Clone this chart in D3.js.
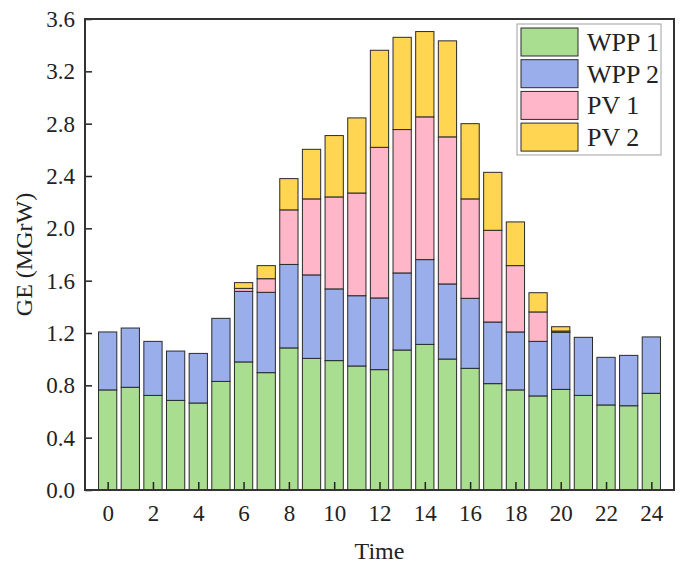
<!DOCTYPE html>
<html lang="en">
<head>
    <meta charset="UTF-8">
    <title>GE stacked bars</title>
    <script src="https://d3js.org/d3.v7.min.js"></script>
    <style>
        body { margin: 0; background: #fff; }
        text { font-family: "Liberation Serif", "Times New Roman", serif; fill: #222; }
    </style>
</head>
<body>
    <svg id="chart" width="680" height="564"></svg>

    <script>
        // hours and series values (MW)
        const hours = d3.range(0, 25);
        const wpp1 = [0.765, 0.785, 0.723, 0.685, 0.665, 0.830, 0.979, 0.897, 1.086, 1.006, 0.989, 0.948, 0.920,
                      1.070, 1.113, 1.001, 0.930, 0.813, 0.765, 0.719, 0.769, 0.723, 0.650, 0.644, 0.739];
        const wpp2 = [0.443, 0.453, 0.413, 0.377, 0.379, 0.482, 0.539, 0.614, 0.638, 0.638, 0.548, 0.537, 0.548,
                      0.589, 0.648, 0.574, 0.535, 0.471, 0.443, 0.417, 0.436, 0.444, 0.364, 0.385, 0.431];
        const pv1  = [0, 0, 0, 0, 0, 0, 0.023, 0.104, 0.417, 0.581, 0.703, 0.785, 1.151,
                      1.096, 1.091, 1.124, 0.760, 0.701, 0.507, 0.225, 0.010, 0, 0, 0, 0];
        const pv2  = [0, 0, 0, 0, 0, 0, 0.044, 0.100, 0.239, 0.379, 0.469, 0.574, 0.742,
                      0.705, 0.652, 0.734, 0.575, 0.443, 0.334, 0.147, 0.033, 0, 0, 0, 0];
        const seriesNames = ["WPP 1", "WPP 2", "PV 1", "PV 2"];
        const seriesColors = ["#a9dd90", "#9aaeec", "#ffb6c9", "#ffd551"];
        const yTicks = d3.range(0, 3.61, 0.4);
        const xTicks = d3.range(0, 25, 2);

        const svg = d3.select("#chart");
        const margin = {left: 85, right: 6, top: 19, bottom: 74};
        const W = 680 - margin.left - margin.right;
        const H = 564 - margin.top - margin.bottom;
        const g = svg.append("g").attr("transform", `translate(${margin.left},${margin.top})`);

        const x = d3.scaleLinear().domain([-1, 25]).range([0, W]);
        const y = d3.scaleLinear().domain([0, 3.6]).range([H, 0]);
        const barW = (x(1) - x(0)) * 0.806;

        const rows = hours.map((h, i) => ({h, "WPP 1": wpp1[i], "WPP 2": wpp2[i], "PV 1": pv1[i], "PV 2": pv2[i]}));
        const stacked = d3.stack().keys(seriesNames)(rows);

        // bars
        g.selectAll(".layer")
            .data(stacked)
            .enter().append("g")
            .attr("class", "layer")
            .attr("fill", (d, i) => seriesColors[i])
            .selectAll("rect")
            .data(d => d.filter(p => p[1] - p[0] > 0))
            .enter().append("rect")
            .attr("x", d => x(d.data.h) - barW / 2)
            .attr("y", d => y(d[1]))
            .attr("width", barW)
            .attr("height", d => y(d[0]) - y(d[1]))
            .attr("stroke", "#2a2a2a")
            .attr("stroke-width", 1);

        // axes (ticks pointing inward)
        const xAxis = g.append("g")
            .attr("transform", `translate(0,${H})`)
            .call(d3.axisBottom(x).tickValues(xTicks).tickSize(-8).tickPadding(15).tickFormat(d3.format("d")));
        const yAxis = g.append("g")
            .call(d3.axisLeft(y).tickValues(yTicks).tickSize(-7).tickPadding(10).tickFormat(d3.format(".1f")));
        [xAxis, yAxis].forEach(a => {
            a.select(".domain").remove();
            a.selectAll("line").attr("stroke", "#222").attr("stroke-width", 1.5);
            a.selectAll("text").attr("font-size", 23).attr("font-family", "Liberation Serif").attr("fill", "#222");
        });
        xAxis.selectAll("text").attr("dy", "0.71em");

        // frame
        g.append("rect")
            .attr("width", W).attr("height", H)
            .attr("fill", "none").attr("stroke", "#333").attr("stroke-width", 2);

        // axis titles
        svg.append("text")
            .attr("x", margin.left + W / 2).attr("y", 559)
            .attr("text-anchor", "middle").attr("font-size", 24)
            .text("Time");
        svg.append("text")
            .attr("transform", `translate(32,${margin.top + H / 2}) rotate(-90)`)
            .attr("text-anchor", "middle").attr("font-size", 24)
            .text("GE (MGrW)");

        // legend
        const lg = svg.append("g").attr("transform", "translate(517,24)");
        lg.append("rect")
            .attr("width", 144).attr("height", 131)
            .attr("fill", "#fff").attr("stroke", "#a0a0a0").attr("stroke-width", 1);
        const items = lg.selectAll(".item")
            .data(seriesNames)
            .enter().append("g")
            .attr("transform", (d, i) => `translate(4,${4 + i * 31.7})`);
        items.append("rect")
            .attr("width", 57).attr("height", 28)
            .attr("fill", (d, i) => seriesColors[i])
            .attr("stroke", "#2a2a2a").attr("stroke-width", 1);
        items.append("text")
            .attr("x", 66).attr("y", 23)
            .attr("font-size", 26)
            .text(d => d);
    </script>
</body>
</html>
